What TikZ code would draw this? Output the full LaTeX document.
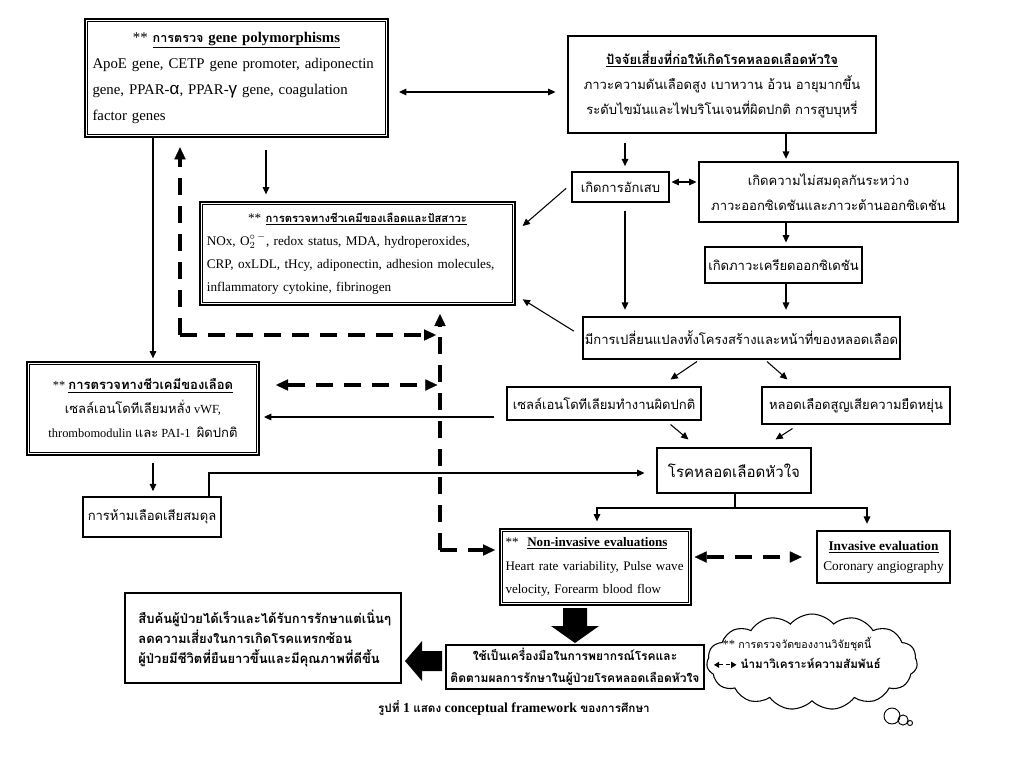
\documentclass[tikz,border=0pt]{standalone}
\usepackage{fontspec}
\setmainfont{Liberation Serif}
\newfontfamily\thaifont[Script=Thai,Scale=0.85]{Loma}
\newfontfamily\grkfont[Scale=1.15]{Liberation Sans}
\usetikzlibrary{arrows.meta,shapes.symbols,calc}
\newcommand\tha[1]{{\thaifont #1}}
\newcommand\thk{\thaifont\fontsize{11.5}{18}\selectfont}
\newcommand\mkbox[7]{%
  \pgfmathsetmacro\cxx{(#3+#5)/2}%
  \pgfmathsetmacro\cyy{(#4+#6)/2}%
  \pgfmathsetmacro\www{(#5-#3)*0.75}%
  \pgfmathsetmacro\hhh{(#6-#4)*0.75}%
  \node[#2, minimum width=\www pt, minimum height=\hhh pt] (#1) at (\cxx,\cyy) {#7};}
\tikzset{
  sbox/.style={draw, line width=0.8pt, inner sep=0pt},
  dbox/.style={draw, line width=1.5pt, inner sep=0pt},
  inner/.style={line width=0.6pt},
  thf/.style={font=\thaifont\fontsize{11.5}{#1}\selectfont},
  thf/.default=19,
  arr/.style={-{Triangle[length=5.5pt,width=5pt]}, line width=0.8pt},
  arrb/.style={{Triangle[length=5.5pt,width=5pt]}-{Triangle[length=5.5pt,width=5pt]}, line width=0.8pt},
  darr/.style={-{Triangle[length=9pt,width=8.5pt,line width=0.2pt]}, line width=2.7pt, dash pattern=on 13pt off 8pt},
  darrb/.style={{Triangle[length=9pt,width=8.5pt,line width=0.2pt]}-{Triangle[length=9pt,width=8.5pt,line width=0.2pt]}, line width=2.7pt, dash pattern=on 13pt off 8pt}
}
\begin{document}
\begin{tikzpicture}[x=0.75pt,y=-0.75pt]
\useasboundingbox (0,0) rectangle (1024,768);
\fill[white] (0,0) rectangle (1024,768);

% ---------- boxes ----------
\mkbox{A}{dbox, align=left, text width=216pt, font=\fontsize{11.1}{19.5}\selectfont}{85}{19}{388}{137}{\makebox[\linewidth]{** \textbf{\underline{\tha{การตรวจ} gene polymorphisms}}}\\ ApoE gene, CETP gene promoter, adiponectin\\ gene, PPAR-{\grkfont α}, PPAR-{\grkfont γ} gene, coagulation\\ factor genes}

\mkbox{B}{sbox, align=center, thf=19}{568}{36}{876}{133}{\textbf{\underline{ปัจจัยเสี่ยงที่ก่อให้เกิดโรคหลอดเลือดหัวใจ}}\\ ภาวะความดันเลือดสูง เบาหวาน อ้วน อายุมากขึ้น\\ ระดับไขมันและไฟบริโนเจนที่ผิดปกติ การสูบบุหรี่}

\mkbox{C}{dbox, align=left, text width=226pt, font=\fontsize{9.9}{17.25}\selectfont}{200}{202}{515}{305}{\makebox[\linewidth]{** \textbf{\underline{\tha{การตรวจทางชีวเคมีของเลือดและปัสสาวะ}}}}\\ NOx, O$_2^{\circ\,-}$, redox status, MDA, hydroperoxides,\\ CRP, oxLDL, tHcy, adiponectin, adhesion molecules,\\ inflammatory cytokine, fibrinogen}

\mkbox{D}{sbox, thf}{572}{172}{669}{202}{เกิดการอักเสบ}
\mkbox{E}{sbox, align=center, thf=18.75}{699}{162}{958}{222}{เกิดความไม่สมดุลกันระหว่าง\\ ภาวะออกซิเดชันและภาวะต้านออกซิเดชัน}
\mkbox{F}{sbox, thf}{705}{247}{862}{283}{เกิดภาวะเครียดออกซิเดชัน}
\mkbox{G}{sbox, thf}{583}{317}{900}{359}{มีการเปลี่ยนแปลงทั้งโครงสร้างและหน้าที่ของหลอดเลือด}
\mkbox{H}{sbox, thf}{507}{387}{701}{420}{เซลล์เอนโดทีเลียมทำงานผิดปกติ}
\mkbox{I}{sbox, thf}{762}{387}{950}{424}{หลอดเลือดสูญเสียความยืดหยุ่น}
\mkbox{J}{sbox, font=\thaifont\fontsize{13.3}{19}\selectfont}{657}{448}{811}{493}{โรคหลอดเลือดหัวใจ}

\mkbox{K}{dbox, align=center, font=\fontsize{9.3}{18}\selectfont}{27}{362}{259}{455}{** \textbf{\underline{\thk การตรวจทางชีวเคมีของเลือด}}\\ {\thk เซลล์เอนโดทีเลียมหลั่ง} vWF,\\ thrombomodulin {\thk และ} PAI-1\ \ {\thk ผิดปกติ}}

\mkbox{L}{sbox, thf}{83}{497}{221}{537}{การห้ามเลือดเสียสมดุล}

\mkbox{M}{dbox, align=left, text width=135pt, font=\fontsize{9.8}{17.6}\selectfont}{500}{529}{691}{605}{**\ \ \textbf{\underline{Non-invasive evaluations}}\\ Heart rate variability, Pulse wave\\ velocity, Forearm blood flow}

\mkbox{N}{sbox, align=center, font=\fontsize{10}{15}\selectfont}{817}{531}{950}{583}{\textbf{\underline{Invasive evaluation}}\\ Coronary angiography}

\mkbox{O}{sbox, align=center, font=\thaifont\bfseries\fontsize{10.6}{16.5}\selectfont}{446}{645}{704}{689}{ใช้เป็นเครื่องมือในการพยากรณ์โรคและ\\ ติดตามผลการรักษาในผู้ป่วยโรคหลอดเลือดหัวใจ}

\mkbox{P}{sbox, align=left, text width=187pt, font=\thaifont\bfseries\fontsize{11.5}{15}\selectfont}{125}{593}{401}{683}{สืบค้นผู้ป่วยได้เร็วและได้รับการรักษาแต่เนิ่นๆ\\ ลดความเสี่ยงในการเกิดโรคแทรกซ้อน\\ ผู้ป่วยมีชีวิตที่ยืนยาวขึ้นและมีคุณภาพที่ดีขึ้น}

% inner lines of the double-bordered boxes
\foreach \n in {A,C,K,M}
  \draw[inner] ([shift={(2.7pt,-2.7pt)}]\n.north west) rectangle ([shift={(-2.7pt,2.7pt)}]\n.south east);

% ---------- solid connectors ----------
\draw[arrb] ([xshift=7.5pt]A.east |- 0,92) -- ([xshift=-9pt]B.west |- 0,92);
\draw[arr] ([yshift=-9pt]A.south -| 266,0) -- ([yshift=5pt]C.north -| 266,0);
\draw[arr] ([yshift=-7pt]B.south -| 625,0) -- ([yshift=4pt]D.north -| 625,0);
\draw[arr] (B.south -| 786,0) -- ([yshift=2pt]E.north -| 786,0);
\draw[arrb] ([xshift=1.5pt]D.east |- 0,182) -- ([xshift=-1.5pt]E.west |- 0,182);
\draw[arr] (E.south -| 786,0) -- ([yshift=3pt]F.north -| 786,0);
\draw[arr] ([yshift=-6pt]D.south -| 625,0) -- ([yshift=5pt]G.north -| 625,0);
\draw[arr] (F.south -| 786,0) -- ([yshift=5pt]G.north -| 786,0);
\draw[arr] ([xshift=-4pt,yshift=-1pt]D.west) -- ([xshift=5pt]C.east |- 0,226);
\draw[arr] ([xshift=-6.5pt,yshift=-11pt]G.north west) -- ([xshift=5pt,yshift=5pt]C.south east);
\draw[arr] ([xshift=-33.4pt,yshift=-1.5pt]G.south) -- ([xshift=-23.25pt,yshift=5.25pt]H.north east);
\draw[arr] ([xshift=19.1pt,yshift=-1.5pt]G.south) -- ([xshift=19.5pt,yshift=5.25pt]I.north west);
\draw[arr] ([xshift=-23.25pt,yshift=-3pt]H.south east) -- ([xshift=24pt,yshift=6pt]J.north west);
\draw[arr] ([xshift=23.25pt,yshift=-3pt]I.south west) -- ([xshift=-27pt,yshift=6pt]J.north east);
\draw[arr] ([xshift=-9pt]H.west |- 0,417) -- ([xshift=3pt]K.east |- 0,417);
\draw[arr] (A.south -| 153,0) -- ([yshift=2pt]K.north -| 153,0);
\draw[arr] ([yshift=-5pt]K.south -| 153,0) -- ([yshift=4pt]L.north -| 153,0);
\draw[arr] (L.north -| 209,0) |- ([xshift=-9pt]J.west |- 0,473);
\coordinate (jj) at (735,508);
\draw[line width=0.8pt] (J.south -| jj) -- (jj);
\draw[arr] (jj) -| ([yshift=5pt]M.north -| 597,0);
\draw[arr] (jj) -| ([yshift=5pt]N.north -| 867,0);

% ---------- dashed connectors ----------
\coordinate (ja) at (180,335);
\coordinate (jb) at (440,550);
\draw[darr] (ja) -- ([yshift=-7pt]A.south -| ja);
\draw[darr] (ja) -- ([xshift=-3pt]ja -| jb);
\draw[darr] (jb) -- ([yshift=-6pt]C.south -| jb);
\draw[darr] (jb) -- ([xshift=-3pt]M.west |- jb);
\draw[darrb] ([xshift=12pt]K.east |- 0,385) -- ([xshift=-2pt]jb |- 0,385);
\draw[darrb] ([xshift=2pt]M.east |- 0,557) -- ([xshift=-11pt]N.west |- 0,557);

% ---------- block arrows ----------
\fill (563,608) -- (587,608) -- (587,626) -- (599,626) -- (575,643) -- (551,626) -- (563,626) -- cycle;
\fill (442,651) -- (422,651) -- (422,641) -- (405,661) -- (422,681) -- (422,671) -- (442,671) -- cycle;

% ---------- cloud ----------
\node[cloud, draw, line width=0.8pt, cloud puffs=15, cloud puff arc=100, aspect=2.2, minimum width=158pt, minimum height=72pt, inner sep=0pt] (cl) at (812,662) {};
\node[align=center, font=\fontsize{10.3}{15}\selectfont] (clt) at (797,653) {{\fontsize{9.4}{15}\selectfont ** \tha{การตรวจวัดของงานวิจัยชุดนี้}}\\ \tikz[baseline=-0.6ex]\draw[{Triangle[length=4pt,width=4.5pt]}-{Triangle[length=4pt,width=4.5pt]}, dash pattern=on 3pt off 2.5pt, line width=0.9pt] (0pt,0pt) -- (17pt,0pt);\ \textbf{\tha{นำมาวิเคราะห์ความสัมพันธ์}}};
\draw[line width=0.7pt] (892,716) circle[radius=6pt];
\draw[line width=0.7pt] (903,720) circle[radius=3.8pt];
\draw[line width=0.7pt] (910,723) circle[radius=1.9pt];

% ---------- caption ----------
\node[font=\bfseries\fontsize{10.3}{12}\selectfont] (cap) at (514,708) {\tha{รูปที่} 1 \tha{แสดง} conceptual framework \tha{ของการศึกษา}};
\end{tikzpicture}
\end{document}
